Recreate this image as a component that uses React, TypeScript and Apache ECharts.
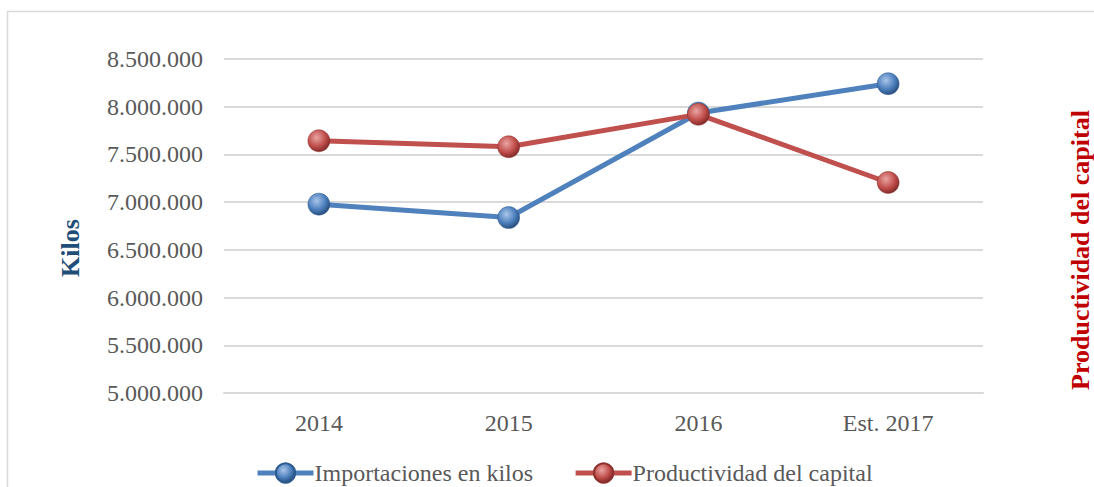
import React, { useEffect, useRef } from "react";
import * as echarts from "echarts";

const categories = ["2014", "2015", "2016", "Est. 2017"];
const importaciones = [6979000, 6838000, 7934000, 8241000];
const productividad = [7643000, 7580000, 7920000, 7206000];
const yTicks = { min: 5000000, max: 8500000, interval: 500000 };

const fmt = (v: number) => String(Math.round(v)).replace(/\B(?=(\d{3})+(?!\d))/g, ".");

const sphere = (light: string, mid: string, dark: string) => ({
  type: "radial",
  x: 0.4,
  y: 0.35,
  r: 0.75,
  colorStops: [
    { offset: 0, color: light },
    { offset: 0.55, color: mid },
    { offset: 1, color: dark },
  ],
});

export default function App() {
  const ref = useRef<HTMLDivElement>(null);
  useEffect(() => {
    const chart = echarts.init(ref.current!, null, { renderer: "svg" });
    const font = "'Liberation Serif', 'Times New Roman', serif";
    chart.setOption({
      animation: false,
      backgroundColor: "#ffffff",
      textStyle: { fontFamily: font },
      grid: { left: 224, right: 111, top: 59, bottom: 94, containLabel: false },
      xAxis: {
        type: "category",
        data: categories,
        boundaryGap: true,
        axisLine: { lineStyle: { color: "#d9d9d9", width: 2 } },
        axisTick: { show: false },
        axisLabel: { color: "#595959", fontSize: 24, fontFamily: font, margin: 18 },
      },
      yAxis: [
        {
          type: "value",
          min: yTicks.min,
          max: yTicks.max,
          interval: yTicks.interval,
          axisLine: { show: false },
          axisTick: { show: false },
          splitLine: { lineStyle: { color: "#d9d9d9", width: 2 } },
          axisLabel: {
            color: "#595959",
            fontSize: 24,
            fontFamily: font,
            margin: 21,
            formatter: (v: number) => fmt(v),
          },
        },
        {
          type: "value",
          min: yTicks.min,
          max: yTicks.max,
          interval: yTicks.interval,
          position: "right",
          axisLine: { show: false },
          axisTick: { show: false },
          splitLine: { show: false },
          axisLabel: { show: false },
        },
      ],
      legend: {
        left: 250,
        top: 456,
        itemWidth: 56,
        itemHeight: 24,
        itemGap: 40,
        lineStyle: { width: 5 },
        textStyle: { color: "#595959", fontSize: 24, fontFamily: font, padding: [0, 0, 0, -4] },
        data: ["Importaciones en kilos", "Productividad del capital"],
      },
      graphic: [
        {
          type: "rect",
          shape: { x: 7.5, y: 11.5, width: 1200, height: 600 },
          style: { fill: "none", stroke: "#d9d9d9", lineWidth: 1.5 },
          silent: true,
          z: -10,
        },
        {
          type: "text",
          x: 70,
          y: 248,
          rotation: Math.PI / 2,
          style: {
            text: "Kilos",
            fill: "#1f4e79",
            font: `bold 26px ${font}`,
            align: "center",
            verticalAlign: "middle",
          },
        },
        {
          type: "text",
          x: 1080,
          y: 250,
          rotation: Math.PI / 2,
          style: {
            text: "Productividad del capital",
            fill: "#c00000",
            font: `bold 26px ${font}`,
            align: "center",
            verticalAlign: "middle",
          },
        },
      ],
      series: [
        {
          name: "Importaciones en kilos",
          type: "line",
          data: importaciones,
          yAxisIndex: 0,
          symbol: "circle",
          symbolSize: 22,
          lineStyle: { color: "#4f81bd", width: 5 },
          itemStyle: {
            color: sphere("#a9c6ea", "#4a7dbb", "#1d3c63"),
            borderColor: "#2c5a8f",
            borderWidth: 0.5,
          },
          z: 2,
        },
        {
          name: "Productividad del capital",
          type: "line",
          data: productividad,
          yAxisIndex: 1,
          symbol: "circle",
          symbolSize: 22,
          lineStyle: { color: "#c0504d", width: 5 },
          itemStyle: {
            color: sphere("#eaa5a3", "#bf4d4a", "#6a1d1b"),
            borderColor: "#8c2f2d",
            borderWidth: 0.5,
          },
          z: 3,
        },
      ],
    });
    return () => chart.dispose();
  }, []);
  return (
    <div
      ref={ref}
      style={{ position: "fixed", left: 0, top: 0, width: 1094, height: 487 }}
    />
  );
}
